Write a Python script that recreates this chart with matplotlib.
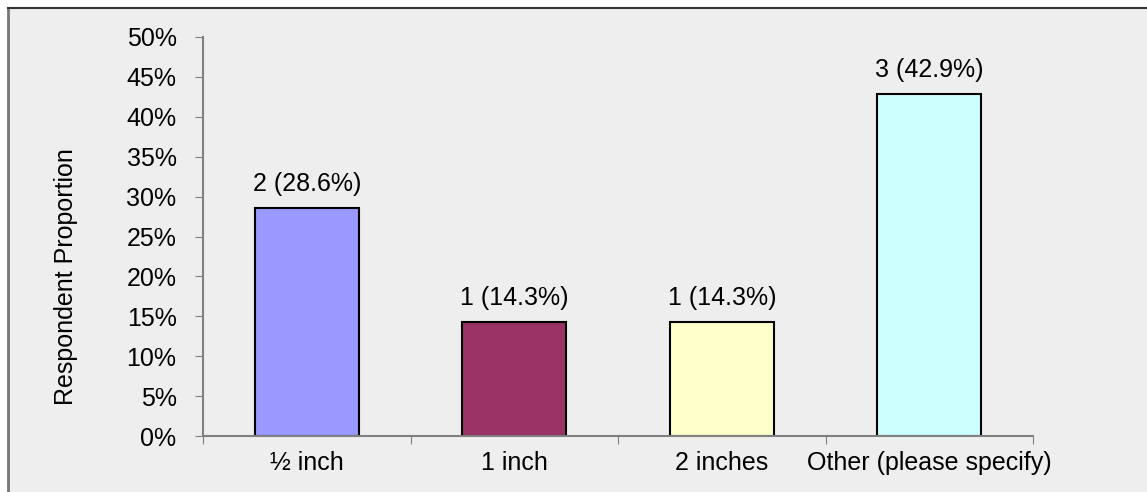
import matplotlib.pyplot as plt
from matplotlib.patches import Rectangle
from matplotlib.lines import Line2D
from matplotlib.ticker import MultipleLocator, PercentFormatter

categories = ['½ inch', '1 inch', '2 inches', 'Other (please specify)']
counts = [2, 1, 1, 3]
percents = [28.6, 14.3, 14.3, 42.9]
colors = ['#9999FF', '#993366', '#FFFFCC', '#CCFFFF']

plt.rcParams['font.family'] = ['Liberation Sans', 'DejaVu Sans']
plt.rcParams['font.size'] = 18

W, H = 1147, 492
fig = plt.figure(figsize=(W / 100, H / 100), dpi=100, facecolor='white')

# grey panel with a border on the left and top
x0, y0 = 8 / W, 1 - 8 / H
fig.patches.append(Rectangle((x0, 0), 1 - x0, y0, transform=fig.transFigure,
                             facecolor='#eeeeee', edgecolor='none', zorder=-10))
fig.lines.append(Line2D([x0, x0], [0, y0], transform=fig.transFigure, color='#777777', lw=2, zorder=-5))
fig.lines.append(Line2D([x0, 1], [y0, y0], transform=fig.transFigure, color='#333333', lw=1.5, zorder=-5))

ax = fig.add_axes([203 / W, 1 - 436 / H, 830 / W, 399 / H])
ax.set_zorder(5)
ax.set_facecolor('none')

x = range(len(categories))
ax.bar(x, percents, width=0.5, color=colors, edgecolor='black', linewidth=1.5, zorder=2)
for i, (c, p) in enumerate(zip(counts, percents)):
    ax.text(i, p + 1.5, f'{c} ({p}%)', ha='center', va='bottom')

ax.set_xlim(-0.5, len(categories) - 0.5)
ax.set_ylim(0, 50)
ax.yaxis.set_major_locator(MultipleLocator(5))
ax.yaxis.set_major_formatter(PercentFormatter(decimals=0))
ax.set_xticks([i - 0.5 for i in range(len(categories) + 1)], minor=False)
ax.set_xticklabels([])
ax.set_xticks(list(x), minor=True)
ax.set_xticklabels(categories, minor=True)
ax.tick_params(axis='x', which='minor', length=0, pad=11)
ax.tick_params(axis='x', which='major', length=6, color='#808080', direction='out')
ax.tick_params(axis='y', length=6, color='#808080', direction='out', pad=13)

for s in ['top', 'right']:
    ax.spines[s].set_visible(False)
for s in ['left', 'bottom']:
    ax.spines[s].set_color('#808080')
    ax.spines[s].set_linewidth(1.5)

ax.set_ylabel('Respondent Proportion')
ax.yaxis.set_label_coords(-0.151, 0.40)

fig.savefig('out.png', dpi=100, facecolor='white')
